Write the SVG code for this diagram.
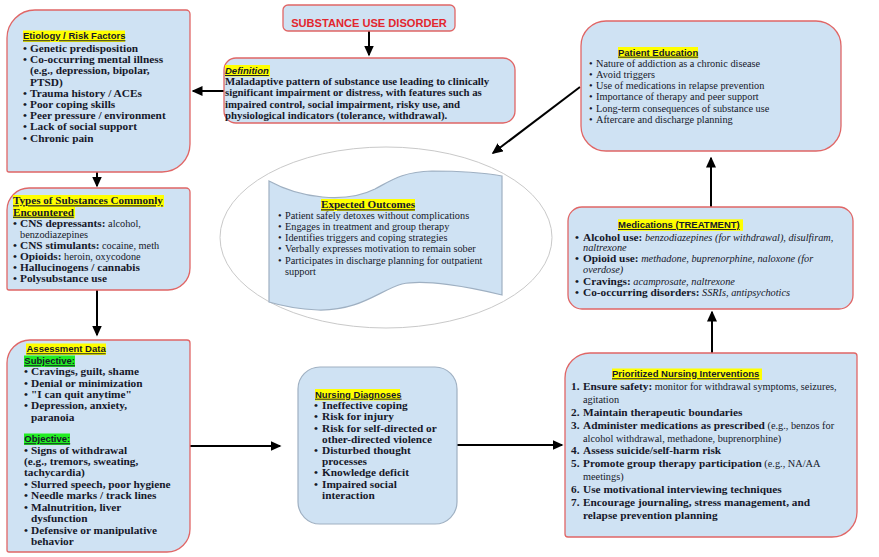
<svg xmlns="http://www.w3.org/2000/svg" width="879" height="557" viewBox="0 0 879 557">
<defs>
<style>
.box{fill:#cfe2f3;stroke:#e06666;stroke-width:1.3}
.gbox{fill:#cfe2f3;stroke:#9fb0c2;stroke-width:1.2}
.t{font-family:"Liberation Serif","Times New Roman",serif;fill:#16182a}
.b{font-weight:bold;font-size:11.3px}
.r{font-size:10.3px}
.bd{font-weight:bold}
.rg{font-weight:normal}
.it{font-style:italic;font-weight:normal}
.h{font-family:"Liberation Sans",Arial,sans-serif;font-weight:bold;font-size:9.5px;fill:#16182a;text-decoration:underline}
.hs{font-family:"Liberation Serif","Times New Roman",serif;font-weight:bold;font-size:11.1px;fill:#16182a;text-decoration:underline}
.y{fill:#ffff00}
.g{fill:#22ee22}
.ar{stroke:#000;stroke-width:2;fill:none;marker-end:url(#ah)}
</style>
<marker id="ah" markerWidth="11" markerHeight="10" refX="9.5" refY="5" orient="auto" markerUnits="userSpaceOnUse">
<path d="M0,0 L11,5 L0,10 Z" fill="#000"/>
</marker>
</defs>
<rect width="879" height="557" fill="#fff"/>

<g id="connectors">
<line class="ar" x1="369" y1="31" x2="369" y2="55"/>
<line class="ar" x1="224" y1="91" x2="193" y2="91"/>
<line class="ar" x1="97" y1="172" x2="97" y2="186"/>
<line class="ar" x1="97" y1="290" x2="97" y2="335"/>
<line class="ar" x1="190" y1="446" x2="280" y2="446"/>
<line class="ar" x1="457" y1="445" x2="562" y2="445"/>
<line class="ar" x1="712" y1="353" x2="712" y2="312"/>
<line class="ar" x1="711" y1="208" x2="711" y2="158"/>
<line class="ar" x1="580" y1="87" x2="493" y2="153"/>
</g>

<g id="title">
<rect class="box" x="283" y="5" width="172" height="26" rx="5"/>
<text x="369" y="26.5" text-anchor="middle" font-family="Liberation Sans,Arial,sans-serif" font-weight="bold" font-size="11.1" fill="#e3262e">SUBSTANCE USE DISORDER</text>
</g>

<g id="definition">
<rect class="box" x="224" y="58" width="291" height="65" rx="12"/>
<rect class="y" x="225" y="65" width="45" height="11.5"/>
<text class="h" x="225" y="74" font-style="italic">Definition</text>
<text class="t bd" font-size="10.8">
<tspan x="225" y="85">Maladaptive pattern of substance use leading to clinically</tspan>
<tspan x="225" y="96.3">significant impairment or distress, with features such as</tspan>
<tspan x="225" y="107.6">impaired control, social impairment, risky use, and</tspan>
<tspan x="225" y="118.9">physiological indicators (tolerance, withdrawal).</tspan>
</text>
</g>

<g id="etiology">
<path class="box" d="M35,10 H186 A4 4 0 0 1 190,14 V144 A28 28 0 0 1 162,172 H9 A2 2 0 0 1 7,170 V38 A28 28 0 0 1 35,10 Z"/>
<rect class="y" x="23" y="30.5" width="102" height="11.5"/>
<text class="h" x="23" y="39.3">Etiology / Risk Factors</text>
<text class="t b">
<tspan x="23" y="52">•</tspan><tspan x="30" y="52">Genetic predisposition</tspan>
<tspan x="23" y="63.2">•</tspan><tspan x="30" y="63.2">Co-occurring mental illness</tspan>
<tspan x="30" y="74.4">(e.g., depression, bipolar,</tspan>
<tspan x="30" y="85.6">PTSD)</tspan>
<tspan x="23" y="96.8">•</tspan><tspan x="30" y="96.8">Trauma history / ACEs</tspan>
<tspan x="23" y="108">•</tspan><tspan x="30" y="108">Poor coping skills</tspan>
<tspan x="23" y="119.2">•</tspan><tspan x="30" y="119.2">Peer pressure / environment</tspan>
<tspan x="23" y="130.4">•</tspan><tspan x="30" y="130.4">Lack of social support</tspan>
<tspan x="23" y="141.6">•</tspan><tspan x="30" y="141.6">Chronic pain</tspan>
</text>
</g>

<g id="types">
<path class="box" d="M29,188 H186 A4 4 0 0 1 190,192 V268 A22 22 0 0 1 168,290 H9 A2 2 0 0 1 7,288 V210 A22 22 0 0 1 29,188 Z"/>
<rect class="y" x="13" y="195" width="151" height="12"/>
<rect class="y" x="13" y="206.5" width="62" height="12"/>
<text class="hs"><tspan x="13" y="204.3">Types of Substances Commonly</tspan><tspan x="13" y="215.7">Encountered</tspan></text>
<text class="t b">
<tspan x="13" y="226.5">•</tspan><tspan x="20" y="226.5">CNS depressants:</tspan><tspan class="rg" font-size="10.3"> alcohol,</tspan>
<tspan class="rg" font-size="10.3" x="20" y="237.5">benzodiazepines</tspan>
<tspan x="13" y="248.5">•</tspan><tspan x="20" y="248.5">CNS stimulants:</tspan><tspan class="rg" font-size="10.3"> cocaine, meth</tspan>
<tspan x="13" y="259.5">•</tspan><tspan x="20" y="259.5">Opioids:</tspan><tspan class="rg" font-size="10.3"> heroin, oxycodone</tspan>
<tspan x="13" y="270.5">•</tspan><tspan x="20" y="270.5">Hallucinogens / cannabis</tspan>
<tspan x="13" y="281.5">•</tspan><tspan x="20" y="281.5">Polysubstance use</tspan>
</text>
</g>

<g id="assessment">
<path class="box" d="M30,340 H187 A3 3 0 0 1 190,343 V529 A23 23 0 0 1 167,552 H9 A2 2 0 0 1 7,550 V363 A23 23 0 0 1 30,340 Z"/>
<rect class="y" x="26" y="343.5" width="80" height="11.5"/>
<text class="h" x="26.5" y="352.3">Assessment Data</text>
<rect class="g" x="24" y="355.5" width="51" height="11.5"/>
<text class="h" x="24.3" y="364.3">Subjective:</text>
<rect class="g" x="24" y="433.5" width="46" height="11.5"/>
<text class="h" x="24.3" y="442.3">Objective:</text>
<text class="t b">
<tspan x="24" y="375">•</tspan><tspan x="31" y="375">Cravings, guilt, shame</tspan>
<tspan x="24" y="386.7">•</tspan><tspan x="31" y="386.7">Denial or minimization</tspan>
<tspan x="24" y="398.3">•</tspan><tspan x="31" y="398.3">"I can quit anytime"</tspan>
<tspan x="24" y="409.3">•</tspan><tspan x="31" y="409.3">Depression, anxiety,</tspan>
<tspan x="31" y="420.7">paranoia</tspan>
<tspan x="24" y="453.7">•</tspan><tspan x="31" y="453.7">Signs of withdrawal</tspan>
<tspan x="24" y="465">(e.g., tremors, sweating,</tspan>
<tspan x="24" y="475.7">tachycardia)</tspan>
<tspan x="24" y="487.7">•</tspan><tspan x="31" y="487.7">Slurred speech, poor hygiene</tspan>
<tspan x="24" y="499.3">•</tspan><tspan x="31" y="499.3">Needle marks / track lines</tspan>
<tspan x="24" y="511">•</tspan><tspan x="31" y="511">Malnutrition, liver</tspan>
<tspan x="31" y="522">dysfunction</tspan>
<tspan x="24" y="533.7">•</tspan><tspan x="31" y="533.7">Defensive or manipulative</tspan>
<tspan x="31" y="545">behavior</tspan>
</text>
</g>

<g id="expected-outcomes">
<ellipse cx="386" cy="237.5" rx="166" ry="90.5" fill="none" stroke="#c9c9c9" stroke-width="1"/>
<path class="gbox" d="M269,181 C300,198 345,204 375,189 C392,180 402,172 432,171 C460,171 485,173 502,176 V295 C470,287 425,279 402,284 C380,290 360,311 318,310 C298,309 282,306 269,302 Z"/>
<rect class="y" x="321" y="199" width="94" height="12"/>
<text class="hs" x="321" y="208.3">Expected Outcomes</text>
<text class="t r">
<tspan x="278" y="219">•</tspan><tspan x="285" y="219">Patient safely detoxes without complications</tspan>
<tspan x="278" y="230">•</tspan><tspan x="285" y="230">Engages in treatment and group therapy</tspan>
<tspan x="278" y="241">•</tspan><tspan x="285" y="241">Identifies triggers and coping strategies</tspan>
<tspan x="278" y="252.3">•</tspan><tspan x="285" y="252.3">Verbally expresses motivation to remain sober</tspan>
<tspan x="278" y="263.7">•</tspan><tspan x="285" y="263.7">Participates in discharge planning for outpatient</tspan>
<tspan x="285" y="275">support</tspan>
</text>
</g>

<g id="nursing-diagnoses">
<rect class="gbox" x="298" y="367" width="159" height="157" rx="22"/>
<rect class="y" x="315" y="389" width="85" height="11.5"/>
<text class="h" x="315" y="397.7">Nursing Diagnoses</text>
<text class="t b">
<tspan x="314" y="409.3">•</tspan><tspan x="322" y="409.3">Ineffective coping</tspan>
<tspan x="314" y="420.3">•</tspan><tspan x="322" y="420.3">Risk for injury</tspan>
<tspan x="314" y="432">•</tspan><tspan x="322" y="432">Risk for self-directed or</tspan>
<tspan x="322" y="443">other-directed violence</tspan>
<tspan x="314" y="454.3">•</tspan><tspan x="322" y="454.3">Disturbed thought</tspan>
<tspan x="322" y="465.3">processes</tspan>
<tspan x="314" y="476.3">•</tspan><tspan x="322" y="476.3">Knowledge deficit</tspan>
<tspan x="314" y="488">•</tspan><tspan x="322" y="488">Impaired social</tspan>
<tspan x="322" y="498.7">interaction</tspan>
</text>
</g>

<g id="interventions">
<path class="box" d="M590,353 H854 A3 3 0 0 1 857,356 V512 A25 25 0 0 1 832,537 H568 A3 3 0 0 1 565,534 V378 A25 25 0 0 1 590,353 Z"/>
<rect class="y" x="612" y="368.5" width="150" height="11.5"/>
<text class="h" x="612" y="377.3">Prioritized Nursing Interventions</text>
<text class="t b">
<tspan x="571" y="390.3">1.</tspan><tspan x="583" y="390.3">Ensure safety:</tspan><tspan class="rg" font-size="10.3"> monitor for withdrawal symptoms, seizures,</tspan>
<tspan class="rg" font-size="10.3" x="583" y="403.3">agitation</tspan>
<tspan x="571" y="416">2.</tspan><tspan x="583" y="416">Maintain therapeutic boundaries</tspan>
<tspan x="571" y="429">3.</tspan><tspan x="583" y="429">Administer medications as prescribed</tspan><tspan class="rg" font-size="10.3"> (e.g., benzos for</tspan>
<tspan class="rg" font-size="10.3" x="583" y="442">alcohol withdrawal, methadone, buprenorphine)</tspan>
<tspan x="571" y="454.3">4.</tspan><tspan x="583" y="454.3">Assess suicide/self-harm risk</tspan>
<tspan x="571" y="467.3">5.</tspan><tspan x="583" y="467.3">Promote group therapy participation</tspan><tspan class="rg" font-size="10.3"> (e.g., NA/AA</tspan>
<tspan class="rg" font-size="10.3" x="583" y="480.3">meetings)</tspan>
<tspan x="571" y="493">6.</tspan><tspan x="583" y="493">Use motivational interviewing techniques</tspan>
<tspan x="571" y="506">7.</tspan><tspan x="583" y="506">Encourage journaling, stress management, and</tspan>
<tspan x="583" y="518.7">relapse prevention planning</tspan>
</text>
</g>

<g id="medications">
<rect class="box" x="568" y="207" width="285" height="102" rx="14"/>
<rect class="y" x="618" y="219.3" width="125" height="11.5"/>
<text class="h" x="618" y="228">Medications (TREATMENT)</text>
<text class="t b">
<tspan x="575" y="240.7">•</tspan><tspan x="583" y="240.7">Alcohol use:</tspan><tspan class="it" font-size="10.3"> benzodiazepines (for withdrawal), disulfiram,</tspan>
<tspan class="it" font-size="10.3" x="583" y="251.3">naltrexone</tspan>
<tspan x="575" y="262.3">•</tspan><tspan x="583" y="262.3">Opioid use:</tspan><tspan class="it" font-size="10.3"> methadone, buprenorphine, naloxone (for</tspan>
<tspan class="it" font-size="10.3" x="583" y="273.3">overdose)</tspan>
<tspan x="575" y="284.7">•</tspan><tspan x="583" y="284.7">Cravings:</tspan><tspan class="it" font-size="10.3"> acamprosate, naltrexone</tspan>
<tspan x="575" y="295.7">•</tspan><tspan x="583" y="295.7">Co-occurring disorders:</tspan><tspan class="it" font-size="10.3"> SSRIs, antipsychotics</tspan>
</text>
</g>

<g id="patient-education">
<rect class="box" x="581" y="21" width="260" height="130" rx="25"/>
<rect class="y" x="618" y="47" width="80" height="11.5"/>
<text class="h" x="618" y="55.7">Patient Education</text>
<text class="t r">
<tspan x="589" y="66.7">•</tspan><tspan x="596" y="66.7">Nature of addiction as a chronic disease</tspan>
<tspan x="589" y="78.3">•</tspan><tspan x="596" y="78.3">Avoid triggers</tspan>
<tspan x="589" y="89.3">•</tspan><tspan x="596" y="89.3">Use of medications in relapse prevention</tspan>
<tspan x="589" y="100.3">•</tspan><tspan x="596" y="100.3">Importance of therapy and peer support</tspan>
<tspan x="589" y="111.7">•</tspan><tspan x="596" y="111.7">Long-term consequences of substance use</tspan>
<tspan x="589" y="122.7">•</tspan><tspan x="596" y="122.7">Aftercare and discharge planning</tspan>
</text>
</g>
</svg>
